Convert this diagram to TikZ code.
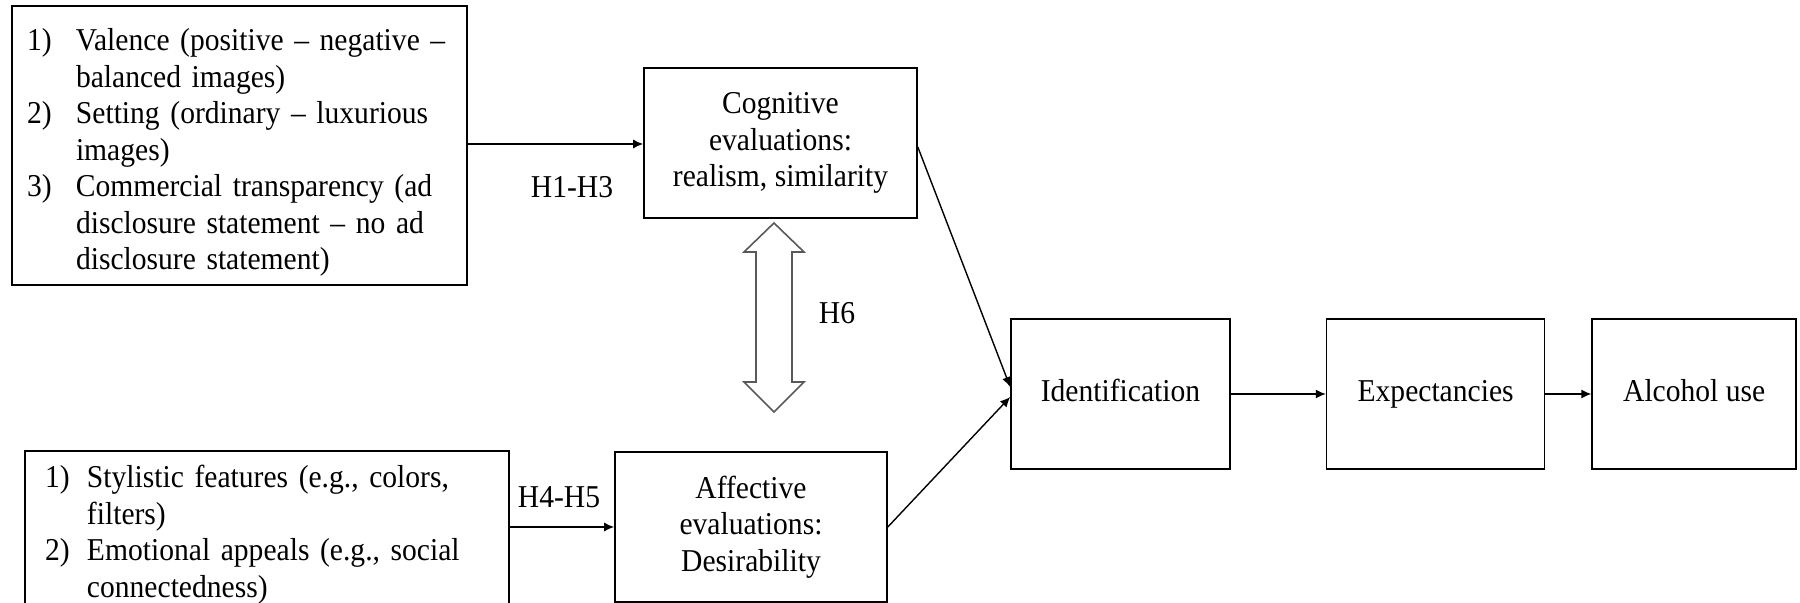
\documentclass[tikz,border=0pt]{standalone}
\usepackage{fontspec}
\setmainfont{Liberation Serif}[FakeStretch=0.93]
\usetikzlibrary{positioning, arrows.meta}

\newcommand{\numitem}[3]{\par\noindent\hangindent=#1\hangafter=1\makebox[#1][l]{#2}#3\par}

\begin{document}
\begin{tikzpicture}[>={Latex[length=5pt,width=4.5pt]}, x=0.5pt, y=-0.5pt,
		font=\fontsize{15.9}{18.25}\selectfont,
		box/.style={draw, line width=0.8pt, align=center, inner sep=0pt},
		single/.style={text height=11pt, text depth=3.5pt},
		conn/.style={->, line width=0.7pt}]
				\useasboundingbox (0,0) rectangle (1800,603);
				\clip (0,0) rectangle (1800,603);

				\node[box, minimum width=227.5pt, minimum height=139.5pt, text width=212.5pt, align=left] (content) at (239.5,145.5)
				{\numitem{24.5pt}{1)}{Valence (positive -- negative --\newline balanced images)}%
				\numitem{24.5pt}{2)}{Setting (ordinary -- luxurious\newline images)}%
				\numitem{24.5pt}{3)}{Commercial transparency (ad\newline disclosure statement -- no ad\newline disclosure statement)}};
				\node[box, minimum width=242pt, minimum height=75.5pt, text width=222pt, align=left] (style) at (267,527.5)
				{\numitem{21pt}{1)}{Stylistic features (e.g., colors,\newline filters)}%
				\numitem{21pt}{2)}{Emotional appeals (e.g., social\newline connectedness)}};

				\node[box, minimum width=136.5pt, minimum height=75pt] (cog) at (780.5,143) {Cognitive\\evaluations:\\realism, similarity};
				\node[box, minimum width=136pt, minimum height=75pt] (aff) at (751,527) {Affective\\evaluations:\\Desirability};
				\node[box, single, minimum width=109.5pt, minimum height=75pt] (ident) at (1120.5,394) {Identification};
				\node[box, single, minimum width=109pt, minimum height=75pt, right=47.5pt of ident] (expect) {Expectancies};
				\node[box, single, minimum width=102pt, minimum height=75pt, right=23pt of expect] (alc) {Alcohol use};

				\node (h13) at (572,187) {H1-H3};
				\node (h45) at (559,497) {H4-H5};
				\node (h6) at (837,313) {H6};

				\draw[conn] (content.east |- 0,144) -- (cog.west |- 0,144);
				\draw[conn] (style.east |- aff.west) -- (aff.west);
				\draw[conn] ([yshift=-2pt]cog.east) -- ([yshift=3.5pt]ident.west);
				\draw[conn] (aff.east) -- ([yshift=-1.5pt]ident.west);
				\draw[conn] (ident) -- (expect);
				\draw[conn] (expect) -- (alc);

				\draw[black!65, line width=0.8pt] (774,223) -- (804,252) -- (792,252) -- (792,382) -- (804,382) -- (774,412)
					-- (744,382) -- (756,382) -- (756,252) -- (744,252) -- cycle;
			\end{tikzpicture}
\end{document}
